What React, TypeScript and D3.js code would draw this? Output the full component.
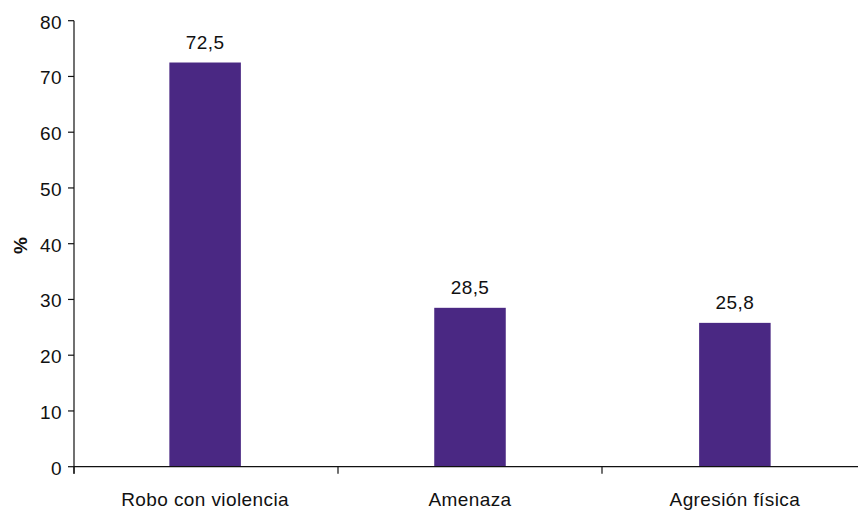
import React from "react";
import * as d3 from "d3";

const categories = ["Robo con violencia", "Amenaza", "Agresión física"];
const values = [72.5, 28.5, 25.8];
const valueLabels = ["72,5", "28,5", "25,8"];
const yTicks = [0, 10, 20, 30, 40, 50, 60, 70, 80];

const W = 858;
const H = 511;
const left = 74;
const bandW = 264;
const top = 20.7;
const bottom = 466.7;
const barColor = "#4a2883";
const font = "'Liberation Sans', Arial, Helvetica, sans-serif";
const fs = 19;
const ls = 0.4;

export default function App() {
  const x = d3
    .scaleBand<string>()
    .domain(categories)
    .range([left, left + bandW * categories.length])
    .paddingInner(0.73)
    .paddingOuter(0.36);
  const y = d3.scaleLinear().domain([0, 80]).range([bottom, top]);
  const boundaries = d3.range(categories.length + 1).map((i) => left + i * bandW);

  return (
    <svg
      width={W}
      height={H}
      style={{ position: "absolute", left: 0, top: 0, background: "#fff" }}
      fontFamily={font}
    >
      {categories.map((c, i) => (
        <rect
          key={c}
          x={x(c)}
          y={y(values[i])}
          width={x.bandwidth()}
          height={y(0) - y(values[i])}
          fill={barColor}
        />
      ))}
      {categories.map((c, i) => (
        <text
          key={"v" + c}
          x={(x(c) as number) + x.bandwidth() / 2}
          y={y(values[i]) - 14}
          textAnchor="middle"
          fontSize={fs}
          letterSpacing={ls}
          fill="#111"
        >
          {valueLabels[i]}
        </text>
      ))}
      {/* y axis */}
      <line x1={left} x2={left} y1={top} y2={bottom + 7} stroke="#111" strokeWidth={1.2} />
      {yTicks.map((t) => (
        <g key={t}>
          <line x1={left - 6} x2={left} y1={y(t)} y2={y(t)} stroke="#111" strokeWidth={1.2} />
          <text
            x={left - 12}
            y={y(t) + 8}
            textAnchor="end"
            fontSize={fs}
            letterSpacing={ls}
            fill="#111"
          >
            {t}
          </text>
        </g>
      ))}
      {/* x axis */}
      <line x1={left} x2={W} y1={bottom} y2={bottom} stroke="#111" strokeWidth={1.2} />
      {boundaries.map((b, i) => (
        <line key={i} x1={b} x2={b} y1={bottom} y2={bottom + 7} stroke="#111" strokeWidth={1.2} />
      ))}
      {categories.map((c) => (
        <text
          key={"c" + c}
          x={(x(c) as number) + x.bandwidth() / 2}
          y={506}
          textAnchor="middle"
          fontSize={fs}
          letterSpacing={ls}
          fill="#111"
        >
          {c}
        </text>
      ))}
      <text
        transform={`translate(27, 245.5) rotate(-90)`}
        textAnchor="middle"
        fontSize={fs}
        fontWeight="bold"
        fill="#111"
      >
        %
      </text>
    </svg>
  );
}
